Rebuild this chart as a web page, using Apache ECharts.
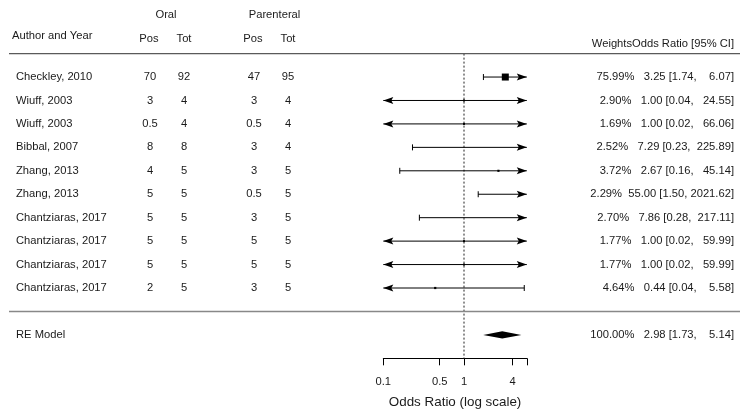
<!DOCTYPE html>
<html>
<head>
<meta charset="utf-8">
<script src="https://cdn.jsdelivr.net/npm/echarts@6/dist/echarts.min.js"></script>
<style>
  html, body { margin: 0; padding: 0; background: #ffffff; }
  #chart { width: 740px; height: 414px; }
</style>
</head>
<body>
<div id="chart"></div>
<script>
// ---- study table ----
const studies = ["Checkley, 2010", "Wiuff, 2003", "Wiuff, 2003", "Bibbal, 2007", "Zhang, 2013",
                 "Zhang, 2013", "Chantziaras, 2017", "Chantziaras, 2017", "Chantziaras, 2017", "Chantziaras, 2017"];
const oralPos = ["70", "3", "0.5", "8", "4", "5", "5", "5", "5", "2"];
const oralTot = ["92", "4", "4", "8", "5", "5", "5", "5", "5", "5"];
const parPos  = ["47", "3", "0.5", "3", "3", "0.5", "3", "5", "5", "3"];
const parTot  = ["95", "4", "4", "4", "5", "5", "5", "5", "5", "5"];

// ---- per-study estimates (odds ratios) ----
const weights   = [75.99, 2.90, 1.69, 2.52, 3.72, 2.29, 2.70, 1.77, 1.77, 4.64];
const oddsRatio = [3.25, 1.00, 1.00, 7.29, 2.67, 55.00, 7.86, 1.00, 1.00, 0.44];
const ciLower   = [1.74, 0.04, 0.02, 0.23, 0.16, 1.50, 0.28, 0.02, 0.02, 0.04];
const ciUpper   = [6.07, 24.55, 66.06, 225.89, 45.14, 2021.62, 217.11, 59.99, 59.99, 5.58];

// ---- random-effects summary ----
const pooledLabel = "RE Model";
const pooledWeight = 100.00;
const pooledEstimate = [2.98, 1.73, 5.14]; // estimate, lower, upper

// ---- axis ----
const axisLimits = [0.1, 6];
const tickValues = [0.1, 0.5, 1, 4, 6];
const tickLabels = ["0.1", "0.5", "1", "4"];

const FONT = "'Liberation Sans', Arial, sans-serif";
const TEXT = "#1a1a1a";
const FS = 11.2;
const k = studies.length;
const lg = v => Math.log10(v);
const xMin = lg(axisLimits[0]), xMax = lg(axisLimits[1]);

function pad(s, n) { while (s.length < n) s = " " + s; return s; }
function annotation(w, est, lo, hi) {
  return w.toFixed(2) + "%" + "  " + pad(est.toFixed(2), 5) + " [" + pad(lo.toFixed(2), 4) + ", " +
         pad(hi.toFixed(2), 7) + "]";
}

// one entry per study: [log est, log lower, log upper, row, weight]
const studyData = studies.map((s, i) => [lg(oddsRatio[i]), lg(ciLower[i]), lg(ciUpper[i]), k - i, weights[i]]);
const wMin = Math.min(...weights), wMax = Math.max(...weights);

function txt(x, y, text, align, size) {
  return { type: 'text', x: x, y: y, style: { text: text, fill: TEXT, font: (size || FS) + "px " + FONT,
           align: align || 'center', verticalAlign: 'middle' } };
}

// filled arrowhead with its tip at (x, y); dir = -1 points left, +1 points right
function arrow(x, y, dir) {
  return { type: 'polygon',
           shape: { points: [[x, y], [x - dir * 10, y - 3.5], [x - dir * 8, y], [x - dir * 10, y + 3.5]] },
           style: { fill: '#000' } };
}

const chart = echarts.init(document.getElementById('chart'), null, { renderer: 'canvas' });

chart.setOption({
  animation: false,
  backgroundColor: '#ffffff',
  grid: { left: 383.3, right: 213.2, top: 30.16, bottom: 55.68 },
  xAxis: {
    type: 'value', min: xMin, max: xMax,
    axisLine: { show: true, onZero: false, lineStyle: { color: '#000', width: 1 } },
    axisTick: { show: true, length: 7, lineStyle: { color: '#000' }, customValues: tickValues.map(lg) },
    axisLabel: {
      customValues: tickLabels.map(Number).map(lg),
      margin: 18, color: TEXT, fontFamily: FONT, fontSize: FS,
      formatter: v => {
        const i = tickLabels.findIndex(t => Math.abs(lg(Number(t)) - v) < 1e-6);
        return i >= 0 ? tickLabels[i] : "";
      }
    },
    splitLine: { show: false },
    name: "Odds Ratio (log scale)", nameLocation: 'middle', nameGap: 37,
    nameTextStyle: { color: TEXT, fontFamily: FONT, fontSize: 13.4 }
  },
  yAxis: { type: 'value', min: -2, max: 12, show: false },
  series: [
    {
      // reference line at OR = 1 and horizontal rules
      type: 'custom', clip: false, silent: true,
      data: [[0]],
      renderItem: (params, api) => {
        const top = api.coord([0, 11]), bot = api.coord([0, -2]);
        const yTop = api.coord([0, 11])[1], yMid = api.coord([0, 0])[1];
        return { type: 'group', children: [
          { type: 'line', shape: { x1: top[0], y1: top[1], x2: bot[0], y2: bot[1] },
            style: { stroke: '#222', lineWidth: 1, lineDash: [2, 2] } },
          { type: 'line', shape: { x1: 9, y1: yTop, x2: 740, y2: yTop },
            style: { stroke: '#5a5a5a', lineWidth: 1.2 } },
          { type: 'line', shape: { x1: 9, y1: yMid, x2: 740, y2: yMid },
            style: { stroke: '#888', lineWidth: 1.6 } }
        ] };
      }
    },
    {
      // study confidence intervals and point estimates
      type: 'custom', clip: false, silent: true,
      data: studyData,
      renderItem: (params, api) => {
        const est = api.value(0), lo = api.value(1), hi = api.value(2), row = api.value(3), w = api.value(4);
        const y = api.coord([0, row])[1];
        const x0 = api.coord([Math.max(lo, xMin), row])[0];
        const x1 = api.coord([Math.min(hi, xMax), row])[0];
        const ch = [{ type: 'line', shape: { x1: x0, y1: y, x2: x1, y2: y }, style: { stroke: '#000', lineWidth: 1 } }];
        if (lo < xMin) ch.push(arrow(x0, y, -1));
        else ch.push({ type: 'line', shape: { x1: x0, y1: y - 3, x2: x0, y2: y + 3 }, style: { stroke: '#000', lineWidth: 1 } });
        if (hi > xMax) ch.push(arrow(x1, y, 1));
        else ch.push({ type: 'line', shape: { x1: x1, y1: y - 3, x2: x1, y2: y + 3 }, style: { stroke: '#000', lineWidth: 1 } });
        if (est >= xMin && est <= xMax) {
          const xe = api.coord([est, row])[0];
          const s = 2 + 5 * (w - wMin) / (wMax - wMin);
          ch.push({ type: 'rect', shape: { x: xe - s / 2, y: y - s / 2, width: s, height: s }, style: { fill: '#000' } });
        }
        return { type: 'group', children: ch };
      }
    },
    {
      // pooled estimate diamond
      type: 'custom', clip: false, silent: true,
      data: [[lg(pooledEstimate[0]), lg(pooledEstimate[1]), lg(pooledEstimate[2]), -1]],
      renderItem: (params, api) => {
        const row = api.value(3);
        const e = api.coord([api.value(0), row]), l = api.coord([api.value(1), row]), h = api.coord([api.value(2), row]);
        return { type: 'polygon', shape: { points: [[l[0], e[1]], [e[0], e[1] - 3.6], [h[0], e[1]], [e[0], e[1] + 3.6]] },
                 style: { fill: '#000' } };
      }
    },
    {
      // table text for each study row and the summary row
      type: 'custom', clip: false, silent: true,
      data: studies.map((s, i) => [i]).concat([[-1]]),
      renderItem: (params, api) => {
        const i = api.value(0);
        if (i < 0) {
          const y = api.coord([0, -1])[1];
          return { type: 'group', children: [
            txt(16, y, pooledLabel, 'left'),
            txt(734, y, annotation(pooledWeight, pooledEstimate[0], pooledEstimate[1], pooledEstimate[2]), 'right')
          ] };
        }
        const y = api.coord([0, k - i])[1];
        return { type: 'group', children: [
          txt(16, y, studies[i], 'left'),
          txt(150, y, oralPos[i]),
          txt(184, y, oralTot[i]),
          txt(254, y, parPos[i]),
          txt(288, y, parTot[i]),
          txt(734, y, annotation(weights[i], oddsRatio[i], ciLower[i], ciUpper[i]), 'right')
        ] };
      }
    }
  ],
  graphic: [
    txt(166, 15, "Oral"),
    txt(274.5, 15, "Parenteral"),
    txt(12, 36, "Author and Year", 'left'),
    txt(149, 39, "Pos"),
    txt(184, 39, "Tot"),
    txt(253, 39, "Pos"),
    txt(288, 39, "Tot"),
    txt(734, 44, "WeightsOdds Ratio [95% CI]", 'right')
  ]
});
</script>
</body>
</html>
